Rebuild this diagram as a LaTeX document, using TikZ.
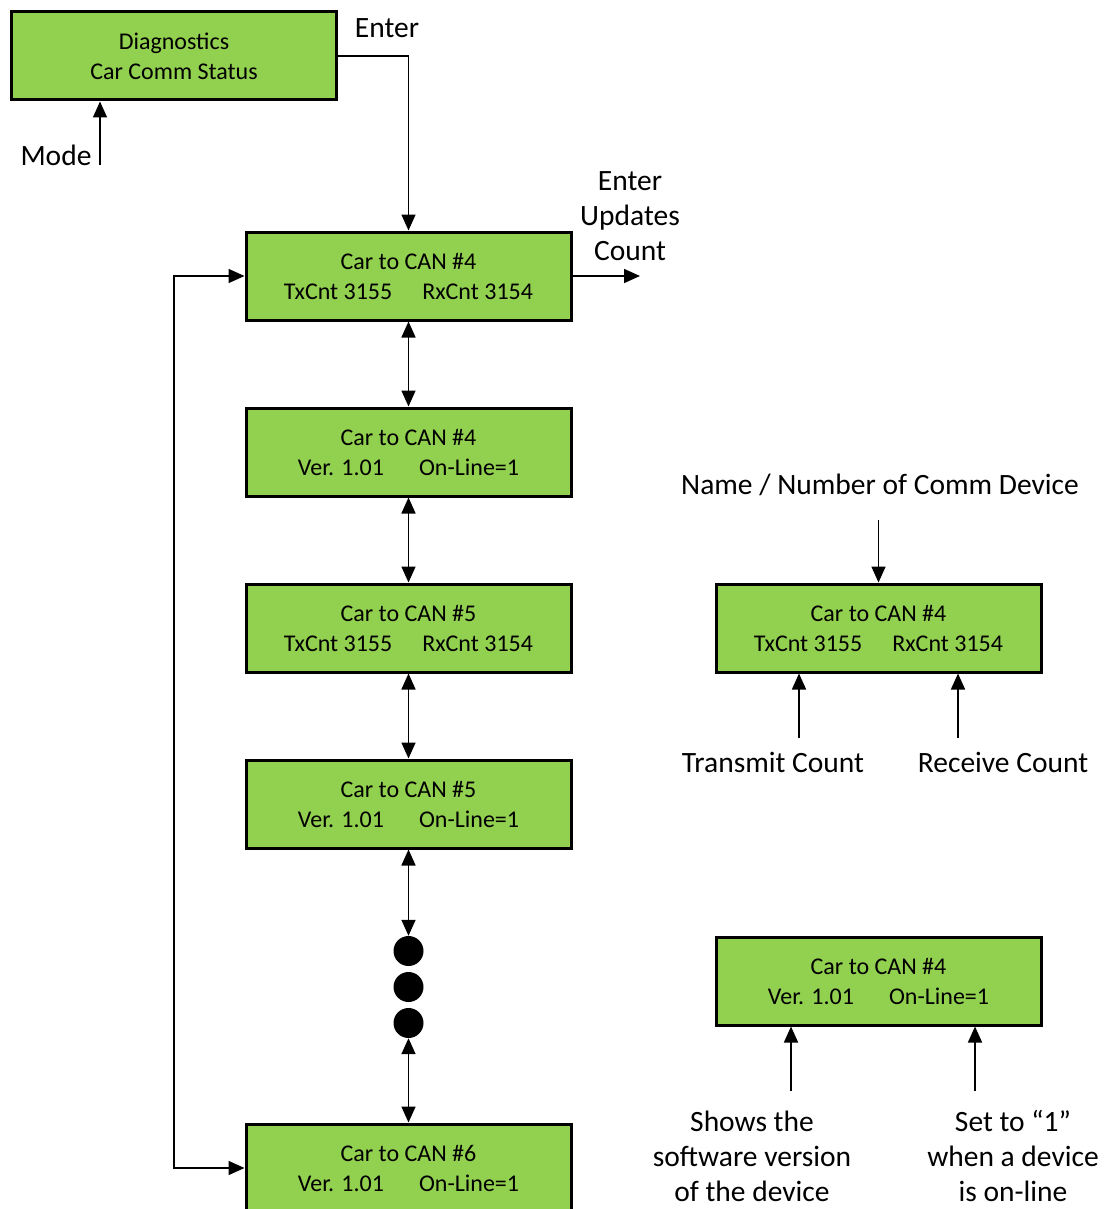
\documentclass[tikz,border=0pt]{standalone}
\usepackage{fontspec}
\setmainfont{Carlito}
\usetikzlibrary{arrows.meta}
\definecolor{boxgreen}{HTML}{92D050}
\tikzset{
  screen/.style={draw=black, fill=boxgreen, line width=3pt, minimum width=325pt,
    minimum height=88pt, inner sep=0pt, align=center,
    font=\fontsize{24}{30}\selectfont},
  lbl/.style={align=center, inner sep=0pt, font=\fontsize{29.5}{35}\selectfont},
  conn/.style={line width=1.6pt, -{Triangle[width=14pt,length=16pt]}},
  biconn/.style={line width=1.6pt, {Triangle[width=14pt,length=16pt]}-{Triangle[width=14pt,length=16pt]}},
  dot/.style={circle, fill=black, minimum size=30pt, inner sep=0pt}
}
\begin{document}
\begin{tikzpicture}[x=1pt,y=-1pt]
\useasboundingbox (0,0) rectangle (1103,1209);
\clip (0,0) rectangle (1103,1209);
\fill[white] (0,0) rectangle (1103,1209);

% menu entry
\node[screen] (diag) at (174,56) {Diagnostics\\Car Comm Status};

% left column of screens
\node[screen] (a) at (408.5,276) {Car to CAN \#4\\TxCnt 3155\hspace{30pt}RxCnt 3154};
\node[screen] (b) at (408.5,452) {Car to CAN \#4\\Ver. 1.01\hspace{35pt}On-Line=1};
\node[screen] (c) at (408.5,628) {Car to CAN \#5\\TxCnt 3155\hspace{30pt}RxCnt 3154};
\node[screen] (d) at (408.5,804) {Car to CAN \#5\\Ver. 1.01\hspace{35pt}On-Line=1};
\node[screen] (e) at (408.5,1168) {Car to CAN \#6\\Ver. 1.01\hspace{35pt}On-Line=1};

\node[dot] (d1) at (408.5,951) {};
\node[dot] (d2) at (408.5,987) {};
\node[dot] (d3) at (408.5,1023) {};

% explanatory screens
\node[screen] (f) at (878.5,628) {Car to CAN \#4\\TxCnt 3155\hspace{30pt}RxCnt 3154};
\node[screen] (g) at (878.5,981) {Car to CAN \#4\\Ver. 1.01\hspace{35pt}On-Line=1};

% labels
\node[lbl] (lmode) at (56,155) {Mode};
\node[lbl] (lenter) at (387,28) {Enter};
\node[lbl] (lupd) at (630,216) {Enter\\Updates\\Count};
\node[lbl] (lname) at (880,485) {Name / Number of Comm Device};
\node[lbl] (ltx) at (773,762) {Transmit Count};
\node[lbl] (lrx) at (1003,762) {Receive Count};
\node[lbl] (lver) at (752,1156) {Shows the\\software version\\of the device};
\node[lbl] (lon) at (1013,1156) {Set to “1”\\when a device\\is on-line};

% free ends of connectors
\coordinate (modeend) at (100,165);
\coordinate (aout) at (640,276);
\coordinate (looptop) at (174,276);
\coordinate (loopbot) at (174,1168);
\coordinate (namein) at (878.5,520);
\coordinate (txin) at (799,738);
\coordinate (rxin) at (958,738);
\coordinate (verin) at (791,1091);
\coordinate (onin) at (975,1091);

% connectors
\draw[conn] (modeend) -- (modeend |- diag.south);
\draw[conn] (diag.east) -| (a.north);
\draw[conn] (a.east) -- (aout);
\draw[biconn] (a.south) -- (b.north);
\draw[biconn] (b.south) -- (c.north);
\draw[biconn] (c.south) -- (d.north);
\draw[biconn] (d.south) -- (d1.north);
\draw[biconn] (d3.south) -- (e.north);
\draw[biconn] (a.west) -- (looptop) -- (loopbot) -- (e.west);

\draw[conn] (namein) -- (f.north);
\draw[conn] (txin) -- (txin |- f.south);
\draw[conn] (rxin) -- (rxin |- f.south);
\draw[conn] (verin) -- (verin |- g.south);
\draw[conn] (onin) -- (onin |- g.south);
\end{tikzpicture}
\end{document}
